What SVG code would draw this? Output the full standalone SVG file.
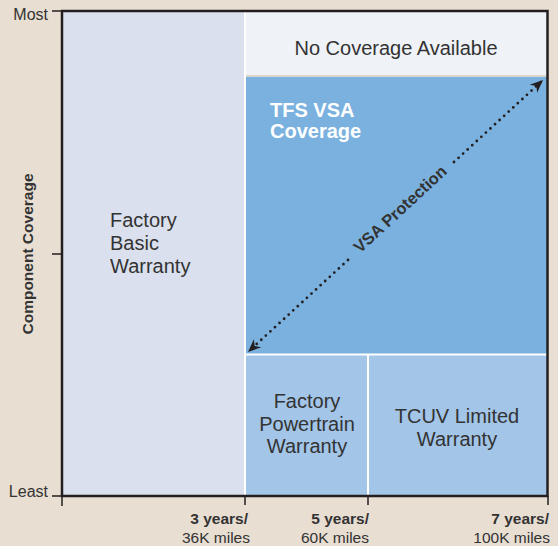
<svg xmlns="http://www.w3.org/2000/svg" width="558" height="546" viewBox="0 0 558 546">
<style>
  .t{font-family:"Liberation Sans",Arial,sans-serif;fill:#333333;}
  .lbl{font-size:20px;}
  .ax{font-size:15.5px;}
  .b{font-weight:bold;}
  .w{fill:#ffffff;}
  .tick{stroke:#231f20;stroke-width:1.5;fill:none;}
  .sep{stroke:#ffffff;stroke-width:2;fill:none;}
  .dots{stroke:#231f20;stroke-width:2.8;stroke-linecap:round;stroke-dasharray:0 6.2;fill:none;}
</style>
<defs>
  <marker id="ah" viewBox="-13 -6 14 12" refX="0" refY="0" markerWidth="14" markerHeight="12" markerUnits="userSpaceOnUse" orient="auto">
    <path d="M0,0 L-13,-5.5 L-9,0 L-13,5.5 Z" fill="#231f20"/>
  </marker>
</defs>
<rect x="0" y="0" width="558" height="546" fill="#e8ded2"/>

<g id="factory-basic">
  <rect x="62" y="11" width="183" height="485" fill="#dae0ed"/>
  <text class="t lbl" x="110" y="227">Factory</text>
  <text class="t lbl" x="110" y="250">Basic</text>
  <text class="t lbl" x="110" y="273">Warranty</text>
</g>
<g id="no-coverage">
  <rect x="245" y="11" width="303" height="65" fill="#eff2f7"/>
  <text class="t lbl" x="396" y="55" text-anchor="middle">No Coverage Available</text>
</g>
<g id="tfs-vsa">
  <rect x="245" y="76" width="303" height="278" fill="#7ab1de"/>
  <line x1="246" y1="76" x2="547" y2="76" stroke="#dcd5cb" stroke-width="2"/>
  <text class="t lbl b w" x="270" y="117">TFS VSA</text>
  <text class="t lbl b w" x="270" y="138">Coverage</text>
</g>
<g id="factory-powertrain">
  <rect x="245" y="354" width="123" height="142" fill="#a2c5e8"/>
  <text class="t lbl" x="307" y="408" text-anchor="middle">Factory</text>
  <text class="t lbl" x="307" y="431" text-anchor="middle">Powertrain</text>
  <text class="t lbl" x="307" y="453" text-anchor="middle">Warranty</text>
</g>
<g id="tcuv-limited">
  <rect x="368" y="354" width="180" height="142" fill="#a2c5e8"/>
  <text class="t lbl" x="457" y="423" text-anchor="middle">TCUV Limited</text>
  <text class="t lbl" x="457" y="446" text-anchor="middle">Warranty</text>
</g>

<g id="separators">
  <line class="sep" x1="245" y1="11" x2="245" y2="495"/>
  <line class="sep" x1="246" y1="354.5" x2="547" y2="354.5"/>
  <line class="sep" x1="368" y1="355" x2="368" y2="495"/>
</g>

<g id="frame">
  <rect x="62" y="11" width="485.5" height="485" fill="none" stroke="#231f20" stroke-width="2.5"/>
</g>

<g id="axes">
  <line class="tick" x1="52" y1="11" x2="62" y2="11"/>
  <line class="tick" x1="52" y1="254" x2="62" y2="254"/>
  <line class="tick" x1="52" y1="496" x2="62" y2="496"/>
  <line class="tick" x1="62" y1="496" x2="62" y2="506"/>
  <line class="tick" x1="245" y1="496" x2="245" y2="505"/>
  <line class="tick" x1="368" y1="496" x2="368" y2="505"/>
  <line class="tick" x1="548" y1="496" x2="548" y2="505"/>
  <text class="t" x="48" y="20" text-anchor="end" font-size="16">Most</text>
  <text class="t" x="48" y="497" text-anchor="end" font-size="16">Least</text>
  <text class="t b" transform="translate(33,254) rotate(-90)" text-anchor="middle" font-size="15.5">Component Coverage</text>
  <text class="t ax b" x="248" y="524" text-anchor="end">3 years/</text>
  <text class="t ax" x="250" y="543" text-anchor="end">36K miles</text>
  <text class="t ax b" x="369" y="524" text-anchor="end">5 years/</text>
  <text class="t ax" x="369" y="543" text-anchor="end">60K miles</text>
  <text class="t ax b" x="549" y="524" text-anchor="end">7 years/</text>
  <text class="t ax" x="550" y="543" text-anchor="end">100K miles</text>
</g>

<g id="connectors">
  <path class="dots" d="M348,260 L248,352" marker-end="url(#ah)"/>
  <path class="dots" d="M454,162 L543,80" marker-end="url(#ah)"/>
  <text class="t b" transform="translate(400,209) rotate(-42.7)" text-anchor="middle" y="5.8" font-size="16.5" fill="#231f20">VSA Protection</text>
</g>
</svg>
